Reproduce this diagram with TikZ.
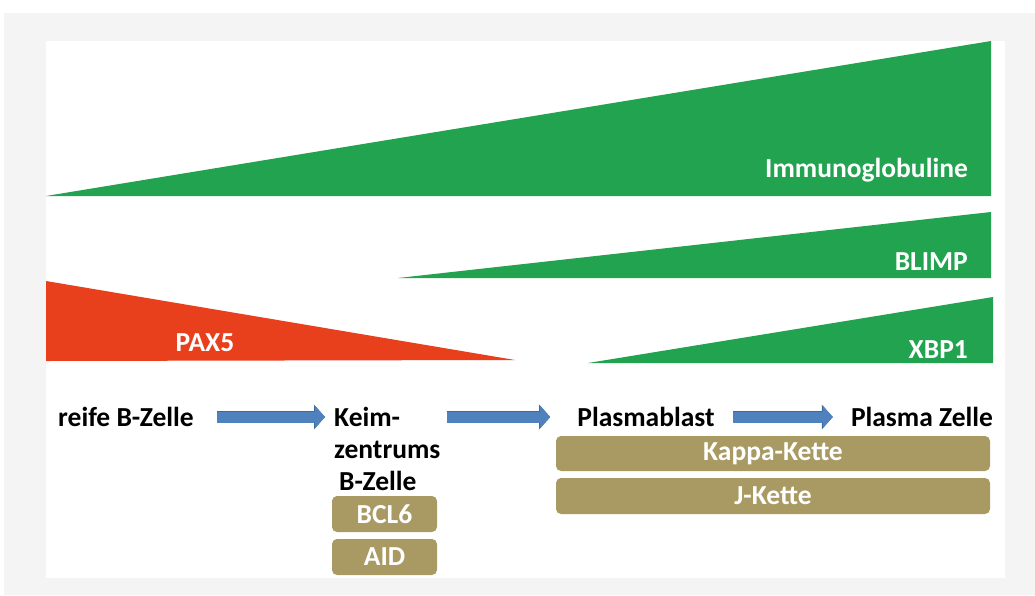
\documentclass[tikz,border=0pt]{standalone}
\usepackage{fontspec}
\setmainfont{Carlito}
\usetikzlibrary{arrows.meta,calc}
\definecolor{bggray}{HTML}{F4F4F4}
\definecolor{ggreen}{HTML}{22A34F}
\definecolor{rred}{HTML}{E8401C}
\definecolor{khaki}{HTML}{A89A62}
\definecolor{ablue}{HTML}{4F81BD}
\definecolor{adark}{HTML}{3A6A9E}
\tikzset{
  lbl/.style={font=\fontsize{27.5}{32}\selectfont\bfseries, text=black, inner sep=3pt},
  wlbl/.style={font=\fontsize{27.5}{32}\selectfont\bfseries, text=white, inner sep=0pt},
  kbox/.style={fill=khaki, rounded corners=5pt, inner sep=0pt, font=\fontsize{27.5}{32}\selectfont\bfseries, text=white},
  blockarrow/.style={draw=ablue, line width=11pt, -{Triangle[width=22pt,length=10pt]},
     preaction={draw=adark, line width=12.5pt, -{Triangle[width=24pt,length=11pt]}}},
}
\begin{document}
\begin{tikzpicture}[x=1pt,y=-1pt]
\useasboundingbox (0,0) rectangle (1035,595);
\fill[white] (0,0) rectangle (1035,595);
\fill[bggray] (4,13) rectangle (1035,595);
\fill[white] (46,41) rectangle (1005,578);
% gradients
\fill[ggreen] (46,196) -- (991,41) -- (991,196) -- cycle;
\fill[ggreen] (398,278) -- (991,212) -- (991,278) -- cycle;
\fill[ggreen] (588,363) -- (993,297) -- (993,363) -- cycle;
\fill[rred] (46,281) -- (515,360) -- (46,361) -- cycle;
\node[wlbl, anchor=east] (ig) at (968,170) {Immunoglobuline};
\node[wlbl, anchor=east] (bl) at (968,262) {BLIMP};
\node[wlbl, anchor=east] (xb) at (968,350) {XBP1};
\node[wlbl] (px) at (205,343) {PAX5};
% stages
\node[lbl] (rb) at (126,417) {reife B-Zelle};
\node[lbl, anchor=north west, align=left] (kz) at (331,404) {Keim-\\zentrums\\\hspace{5pt}B-Zelle};
\node[lbl] (pb) at (646,417) {Plasmablast};
\node[lbl] (pz) at (922,417) {Plasma Zelle};
\draw[blockarrow] ([xshift=20pt]rb.east) -- ($(rb.east -| kz.west)+(-6,0)$);
\draw[blockarrow] ($(kz.east |- pb.west)+(3,0)$) -- ([xshift=-24pt]pb.west);
\draw[blockarrow] ([xshift=15pt]pb.east) -- ([xshift=-15pt]pz.west);
% markers
\node[kbox, minimum width=105pt, minimum height=36pt] (bcl) at (384.5,514) {BCL6};
\node[kbox, minimum width=105pt, minimum height=36pt] (aid) at (384.5,557) {AID};
\node[kbox, minimum width=434pt, minimum height=35pt] (kap) at (773,453.5) {Kappa-Kette};
\node[kbox, minimum width=434pt, minimum height=36pt] (jk) at (773,496) {J-Kette};
\end{tikzpicture}
\end{document}
